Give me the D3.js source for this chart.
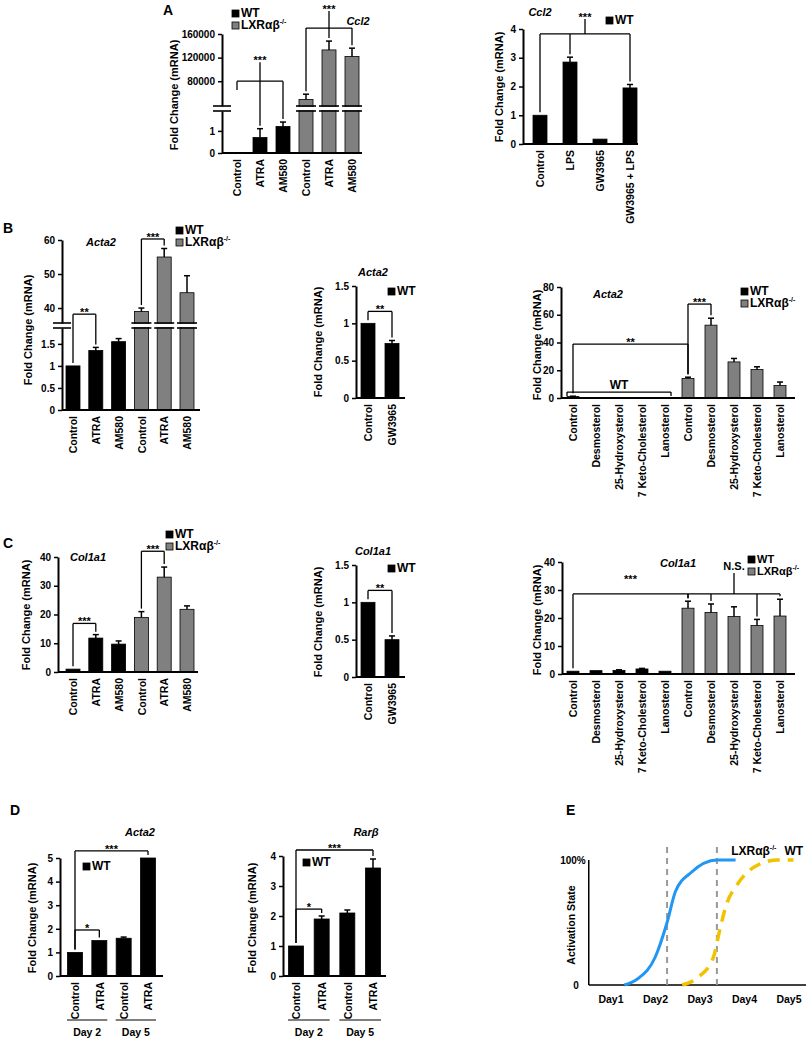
<!DOCTYPE html>
<html>
<head>
<meta charset="utf-8">
<style>
  body { margin: 0; background: #fff; }
  svg text { font-family: "Liberation Sans", Arial, sans-serif; font-weight: bold; fill: #000; }
  svg .tick text { font-size: 10px; }
  svg .cat text { font-size: 10.5px; }
  svg .domain { stroke: #000; stroke-width: 2px; }
  svg .tick line { stroke: #000; stroke-width: 1.5px; }
</style>
</head>
<body>
<script src="https://d3js.org/d3.v7.min.js"></script>
<script>
// ---- data ----
var sixCats = ["Control", "ATRA", "AM580", "Control", "ATRA", "AM580"];
var sixGroups = ["WT", "WT", "WT", "KO", "KO", "KO"];
var sterolCats = ["Control", "Desmosterol", "25-Hydroxysterol", "7 Keto-Cholesterol", "Lanosterol",
                  "Control", "Desmosterol", "25-Hydroxysterol", "7 Keto-Cholesterol", "Lanosterol"];
var sterolGroups = ["WT", "WT", "WT", "WT", "WT", "KO", "KO", "KO", "KO", "KO"];
var gwCats = ["Control", "GW3965"];
var dayCats = ["Control", "ATRA", "Control", "ATRA"];
var dayGroups = [{ label: "Day 2", from: 0, to: 1 }, { label: "Day 5", from: 2, to: 3 }];

// A: Ccl2
var aLeftVals = [0, 0.7, 1.2, 49000, 133000, 122000];
var aLeftErr = [0, 0.4, 0.2, 9000, 15000, 14000];
var aRightCats = ["Control", "LPS", "GW3965", "GW3965 + LPS"];
var aRightVals = [1, 2.85, 0.17, 1.95];
var aRightErr = [0, 0.17, 0, 0.12];

// B: Acta2
var bLeftVals = [1, 1.35, 1.55, 39, 55, 44.5];
var bLeftErr = [0, 0.07, 0.07, 1, 2.5, 5];
var bMidVals = [1, 0.73];
var bMidErr = [0, 0.04];
var bRightVals = [1, 0.3, 0.3, 0.3, 0.3, 14, 52.5, 26, 20.5, 9];
var bRightErr = [0.3, 0, 0, 0, 0, 1, 5, 2.5, 2, 2.5];

// C: Col1a1
var cLeftVals = [1, 11.8, 9.7, 19, 33, 21.8];
var cLeftErr = [0, 1.2, 1.1, 2, 3.5, 1.2];
var cMidVals = [1, 0.5];
var cMidErr = [0, 0.05];
var cRightVals = [1, 1.2, 1.3, 1.8, 1.0, 23.5, 22, 20.5, 17.3, 20.7];
var cRightErr = [0, 0, 0.2, 0.2, 0, 2.5, 3, 3.5, 2.2, 6];

// D: time course
var dLeftVals = [1, 1.5, 1.6, 5.0];
var dLeftErr = [0, 0, 0.05, 0];
var dRightVals = [1, 1.9, 2.1, 3.6];
var dRightErr = [0, 0.1, 0.1, 0.3];

// E: activation model (day, % activation)
var eDays = ["Day1", "Day2", "Day3", "Day4", "Day5"];
var eKO = [[1.3, 0], [1.6, 5], [1.99, 22], [2.26, 50], [2.45, 75], [2.8, 90], [3.38, 100], [3.8, 100]];
var eWT = [[2.6, 0], [2.95, 6], [3.3, 22], [3.45, 45], [3.6, 65], [3.83, 80], [4.3, 96], [4.75, 100], [5.1, 100]];
var eSwitch = [2.26, 3.38];

var colors = { WT: "#000000", KO: "#808080" };
var koLabel = "LXRαβ";

var svg = d3.select("body").append("svg")
    .attr("width", 806)
    .attr("height", 1050);

function letter(t, x, y) {
  svg.append("text").attr("x", x).attr("y", y).style("font-size", "14px").text(t);
}

function yLabel(x, cy) {
  svg.append("text")
      .attr("transform", "translate(" + x + "," + cy + ") rotate(-90)")
      .attr("text-anchor", "middle")
      .style("font-size", "11px")
      .text("Fold Change (mRNA)");
}

function legend(x, y, items, size) {
  var fs = size || 12;
  items.forEach(function (k, i) {
    svg.append("rect")
        .attr("x", x).attr("y", y + i * 12)
        .attr("width", 7).attr("height", 7)
        .attr("fill", colors[k]).attr("stroke", "#000").attr("stroke-width", 0.8);
    var t = svg.append("text")
        .attr("x", x + 9).attr("y", y + i * 12 + 7)
        .style("font-size", fs + "px");
    if (k == "WT") t.text("WT");
    else {
      t.append("tspan").text(koLabel);
      t.append("tspan").attr("dy", -5).style("font-size", "7px").text("-/-");
    }
  });
}

function barChart(o) {
  var g = svg.append("g");
  var n = o.cats.length;
  var x = d3.scalePoint().domain(d3.range(n)).range([o.c0, o.c1]);
  var lo = d3.scaleLinear().domain(o.lo.domain).range(o.lo.range);
  var hi = o.hi ? d3.scaleLinear().domain(o.hi.domain).range(o.hi.range) : null;
  var y = function (v) {
    if (hi && v > o.lo.domain[1]) return hi(Math.max(v, o.hi.domain[0]));
    return lo(v);
  };
  var fmt = function (d) { return String(d); };

  // y axis (one or two segments)
  g.append("g").attr("transform", "translate(" + o.x0 + ",0)")
      .call(d3.axisLeft(lo).tickValues(o.lo.ticks).tickSize(4).tickSizeOuter(0).tickFormat(fmt));
  if (hi) {
    g.append("g").attr("transform", "translate(" + o.x0 + ",0)")
        .call(d3.axisLeft(hi).tickValues(o.hi.ticks).tickSize(4).tickSizeOuter(0).tickFormat(fmt));
  }

  // bars
  var base = o.lo.range[0];
  g.selectAll("rect.bar").data(o.vals).enter().append("rect")
      .attr("class", "bar")
      .attr("x", function (d, i) { return x(i) - o.bw / 2; })
      .attr("y", function (d) { return y(d); })
      .attr("width", o.bw)
      .attr("height", function (d) { return base - y(d); })
      .attr("fill", function (d, i) { return colors[o.groups[i]]; })
      .attr("stroke", "#000").attr("stroke-width", 0.8);

  // error bars (upper only)
  o.vals.forEach(function (v, i) {
    var e = o.errs[i];
    if (!e) return;
    g.append("line").attr("x1", x(i)).attr("x2", x(i))
        .attr("y1", y(v)).attr("y2", y(v + e))
        .attr("stroke", "#000").attr("stroke-width", 1.5);
    g.append("line").attr("x1", x(i) - 3).attr("x2", x(i) + 3)
        .attr("y1", y(v + e)).attr("y2", y(v + e))
        .attr("stroke", "#000").attr("stroke-width", 1.5);
  });

  // axis break marks
  if (hi) {
    var yTop = o.hi.range[0], yBot = o.lo.range[1];
    var marks = [[o.x0 - 9, o.x0 + 9]];
    o.vals.forEach(function (v, i) {
      if (v > o.lo.domain[1]) marks.push([x(i) - o.bw / 2 - 3, x(i) + o.bw / 2 + 3]);
    });
    marks.forEach(function (m) {
      g.append("rect").attr("x", m[0] + 2).attr("y", yTop + 1)
          .attr("width", m[1] - m[0] - 4).attr("height", yBot - yTop - 2).attr("fill", "#fff");
      [yTop, yBot].forEach(function (yy) {
        g.append("line").attr("x1", m[0]).attr("x2", m[1]).attr("y1", yy).attr("y2", yy)
            .attr("stroke", "#000").attr("stroke-width", 1.6);
      });
    });
  }

  // x axis
  g.append("line").attr("x1", o.x0).attr("x2", o.x1).attr("y1", base).attr("y2", base)
      .attr("stroke", "#000").attr("stroke-width", 2);
  var cat = g.append("g").attr("class", "cat")
      .attr("transform", "translate(0," + base + ")")
      .call(d3.axisBottom(x).tickSize(0).tickFormat(function (i) { return o.cats[i]; }));
  cat.select(".domain").remove();
  cat.selectAll("text")
      .attr("transform", "rotate(-90)")
      .attr("text-anchor", "end")
      .attr("x", -6).attr("y", 0).attr("dy", "0.35em");

  // significance brackets
  (o.brackets || []).forEach(function (b) {
    var ly = y(b.level);
    var pad = b.pad || 0;
    var xa = x(b.from) - pad, xb = x(b.to) + pad;
    var ln = function (x1, y1, x2, y2) {
      g.append("line").attr("x1", x1).attr("y1", y1).attr("x2", x2).attr("y2", y2)
          .attr("stroke", "#000").attr("stroke-width", 1.3);
    };
    ln(xa, ly, xb, ly);
    (b.legs || [b.from, b.to]).forEach(function (i, j) {
      var end;
      if (b.legLen) end = ly + b.legLen;
      else if (b.legTo && b.legTo[j] != null) end = y(b.legTo[j]);
      else end = y(o.vals[i] + o.errs[i]) - 3;
      var lx = i == b.from ? xa : (i == b.to ? xb : x(i));
      ln(lx, ly, lx, end);
    });
    var sx = b.stem != null ? x(b.stem) : (xa + xb) / 2;
    var top = ly - (b.lift || 0);
    if (b.stemUp) {
      top = ly - b.stemUp;
      var bottom = b.stemDown ? y(o.vals[b.stem] + o.errs[b.stem]) - 3 : ly;
      ln(sx, top, sx, bottom);
    }
    var star = b.label.charAt(0) == "*";
    g.append("text").attr("x", sx).attr("y", star ? top + 2 : top - 3)
        .attr("text-anchor", "middle")
        .style("font-size", star ? "11px" : (b.size || "11px"))
        .text(b.label);
  });

  // italic gene title
  if (o.title) {
    svg.append("text").attr("x", o.title[1]).attr("y", o.title[2])
        .attr("text-anchor", "middle").style("font-size", "11px").style("font-style", "italic")
        .text(o.title[0]);
  }

  // day grouping under categories
  (o.days || []).forEach(function (d) {
    g.append("line").attr("x1", x(d.from) - 8).attr("x2", x(d.to) + 8)
        .attr("y1", o.dayY).attr("y2", o.dayY).attr("stroke", "#000").attr("stroke-width", 1.2);
    g.append("text").attr("x", (x(d.from) + x(d.to)) / 2).attr("y", o.dayY + 16)
        .attr("text-anchor", "middle").style("font-size", "10.5px").text(d.label);
  });
}

// ---- A ----
letter("A", 163, 15);
barChart({
  x0: 222, x1: 362, c0: 237, c1: 352, bw: 14,
  cats: sixCats, groups: sixGroups, vals: aLeftVals, errs: aLeftErr,
  lo: { domain: [0, 1.9], range: [153, 111], ticks: [0, 1] },
  hi: { domain: [38000, 160000], range: [106, 34], ticks: [80000, 120000, 160000] },
  title: ["Ccl2", 358, 25],
  brackets: [
    { from: 0, to: 2, legs: [0, 2], legTo: [65000, null], level: 80000, stem: 1, stemUp: 19, stemDown: true, label: "***" },
    { from: 3, to: 5, legs: [3, 5], level: 170000, stem: 4, stemUp: 17, stemDown: true, label: "***" }
  ]
});
legend(232, 10, ["WT", "KO"]);
yLabel(178, 95);

barChart({
  x0: 523, x1: 638, c0: 540, c1: 630, bw: 14,
  cats: aRightCats, groups: ["WT", "WT", "WT", "WT"], vals: aRightVals, errs: aRightErr,
  lo: { domain: [0, 4], range: [144, 29], ticks: [0, 1, 2, 3, 4] },
  title: ["Ccl2", 540, 16],
  brackets: [{ from: 0, to: 3, legs: [0, 1, 3], level: 3.83, stemUp: 15, label: "***" }]
});
legend(606, 17, ["WT"]);
yLabel(503, 87);

// ---- B ----
letter("B", 3, 233);
barChart({
  x0: 62, x1: 200, c0: 73, c1: 187, bw: 14,
  cats: sixCats, groups: sixGroups, vals: bLeftVals, errs: bLeftErr,
  lo: { domain: [0, 1.86], range: [410, 328], ticks: [0, 0.5, 1, 1.5] },
  hi: { domain: [35.6, 60], range: [323, 240], ticks: [40, 50, 60] },
  title: ["Acta2", 101, 246],
  brackets: [
    { from: 0, to: 1, level: 38.2, label: "**" },
    { from: 3, to: 4, level: 60.3, label: "***" }
  ]
});
legend(176, 227, ["WT", "KO"]);
yLabel(32, 330);

barChart({
  x0: 356, x1: 405, c0: 368, c1: 392, bw: 14,
  cats: gwCats, groups: ["WT", "WT"], vals: bMidVals, errs: bMidErr,
  lo: { domain: [0, 1.5], range: [398, 286], ticks: [0, 0.5, 1, 1.5] },
  title: ["Acta2", 373, 276],
  brackets: [{ from: 0, to: 1, level: 1.16, label: "**" }]
});
legend(388, 288, ["WT"]);
yLabel(322, 342);

barChart({
  x0: 561, x1: 795, c0: 573, c1: 780, bw: 12,
  cats: sterolCats, groups: sterolGroups, vals: bRightVals, errs: bRightErr,
  lo: { domain: [0, 80], range: [398, 287], ticks: [0, 20, 40, 60, 80] },
  title: ["Acta2", 608, 298],
  brackets: [
    { from: 0, to: 5, level: 38.9, label: "**" },
    { from: 5, to: 6, level: 67.7, label: "***" },
    { from: 0, to: 4, level: 4.3, legLen: 4, pad: 6, label: "WT", size: "12px" }
  ]
});
legend(741, 288, ["WT", "KO"]);
yLabel(541, 345);

// ---- C ----
letter("C", 3, 548);
barChart({
  x0: 58, x1: 198, c0: 73, c1: 187, bw: 14,
  cats: sixCats, groups: sixGroups, vals: cLeftVals, errs: cLeftErr,
  lo: { domain: [0, 40], range: [672, 557], ticks: [0, 10, 20, 30, 40] },
  title: ["Col1a1", 88, 561],
  brackets: [
    { from: 0, to: 1, level: 16.9, label: "***" },
    { from: 3, to: 4, level: 42, label: "***" }
  ]
});
legend(166, 531, ["WT", "KO"]);
yLabel(30, 615);

barChart({
  x0: 356, x1: 405, c0: 368, c1: 392, bw: 14,
  cats: gwCats, groups: ["WT", "WT"], vals: cMidVals, errs: cMidErr,
  lo: { domain: [0, 1.5], range: [677, 565], ticks: [0, 0.5, 1, 1.5] },
  title: ["Col1a1", 373, 555],
  brackets: [{ from: 0, to: 1, level: 1.16, label: "**" }]
});
legend(388, 565, ["WT"]);
yLabel(322, 622);

barChart({
  x0: 562, x1: 795, c0: 573, c1: 780, bw: 12,
  cats: sterolCats, groups: sterolGroups, vals: cRightVals, errs: cRightErr,
  lo: { domain: [0, 40], range: [674, 562], ticks: [0, 10, 20, 30, 40] },
  title: ["Col1a1", 678, 567],
  brackets: [
    { from: 0, to: 5, level: 28.6, lift: 13, label: "***" },
    { from: 5, to: 9, legs: [5, 6, 8, 9], level: 28.6, stem: 7, stemUp: 21, label: "N.S." }
  ]
});
legend(748, 556, ["WT", "KO"], 11);
yLabel(541, 620);

// ---- D ----
letter("D", 10, 815);
barChart({
  x0: 60, x1: 163, c0: 75, c1: 148, bw: 15,
  cats: dayCats, groups: ["WT", "WT", "WT", "WT"], vals: dLeftVals, errs: dLeftErr,
  lo: { domain: [0, 5], range: [976, 858], ticks: [0, 1, 2, 3, 4, 5] },
  title: ["Acta2", 140, 836],
  brackets: [
    { from: 0, to: 3, level: 5.3, label: "***" },
    { from: 0, to: 1, level: 1.95, label: "*" }
  ],
  days: dayGroups, dayY: 1020
});
legend(83, 863, ["WT"]);
yLabel(36, 918);

barChart({
  x0: 283, x1: 386, c0: 296, c1: 373, bw: 15,
  cats: dayCats, groups: ["WT", "WT", "WT", "WT"], vals: dRightVals, errs: dRightErr,
  lo: { domain: [0, 4], range: [976, 856], ticks: [0, 1, 2, 3, 4] },
  title: ["Rarβ", 366, 836],
  brackets: [
    { from: 0, to: 3, level: 4.2, label: "***" },
    { from: 0, to: 1, level: 2.23, label: "*" }
  ],
  days: dayGroups, dayY: 1020
});
legend(303, 859, ["WT"]);
yLabel(256, 918);

// ---- E ----
letter("E", 566, 815);
var xE = d3.scaleLinear().domain([1, 5]).range([611, 789]);
var yE = d3.scaleLinear().domain([0, 100]).range([985, 860]);
var e = svg.append("g");
var eX0 = xE(0.5);
e.append("line").attr("x1", eX0).attr("x2", eX0).attr("y1", yE(0)).attr("y2", yE(100))
    .attr("stroke", "#000").attr("stroke-width", 1.5);
e.append("line").attr("x1", eX0).attr("x2", xE(5.5)).attr("y1", yE(0)).attr("y2", yE(0))
    .attr("stroke", "#000").attr("stroke-width", 1.5);
e.append("text").attr("x", eX0 - 3).attr("y", yE(100) + 4).attr("text-anchor", "end")
    .style("font-size", "10px").text("100%");
e.append("text").attr("x", eX0 - 10).attr("y", yE(0) + 4).attr("text-anchor", "end")
    .style("font-size", "10px").text("0");
e.append("text")
    .attr("transform", "translate(" + (eX0 - 14) + "," + yE(48) + ") rotate(-90)")
    .attr("text-anchor", "middle").style("font-size", "10.5px").text("Activation State");
eDays.forEach(function (d, i) {
  e.append("text").attr("x", xE(i + 1)).attr("y", yE(0) + 18).attr("text-anchor", "middle")
      .style("font-size", "10.5px").text(d);
});
eSwitch.forEach(function (d) {
  e.append("line").attr("x1", xE(d)).attr("x2", xE(d)).attr("y1", yE(0)).attr("y2", yE(113))
      .attr("stroke", "#999").attr("stroke-width", 2).attr("stroke-dasharray", "6,5");
});
var eLine = d3.line().x(function (d) { return xE(d[0]); }).y(function (d) { return yE(d[1]); })
    .curve(d3.curveMonotoneX);
e.append("path").attr("d", eLine(eKO)).attr("fill", "none")
    .attr("stroke", "#2196F3").attr("stroke-width", 3);
e.append("path").attr("d", eLine(eWT)).attr("fill", "none")
    .attr("stroke", "#F2C200").attr("stroke-width", 3.5).attr("stroke-dasharray", "12,8");
var koT = e.append("text").attr("x", xE(3.7)).attr("y", yE(100) - 5).style("font-size", "12px");
koT.append("tspan").text(koLabel);
koT.append("tspan").attr("dy", -5).style("font-size", "7px").text("-/-");
e.append("text").attr("x", xE(4.9)).attr("y", yE(100) - 5).style("font-size", "12px").text("WT");
</script>
</body>
</html>
